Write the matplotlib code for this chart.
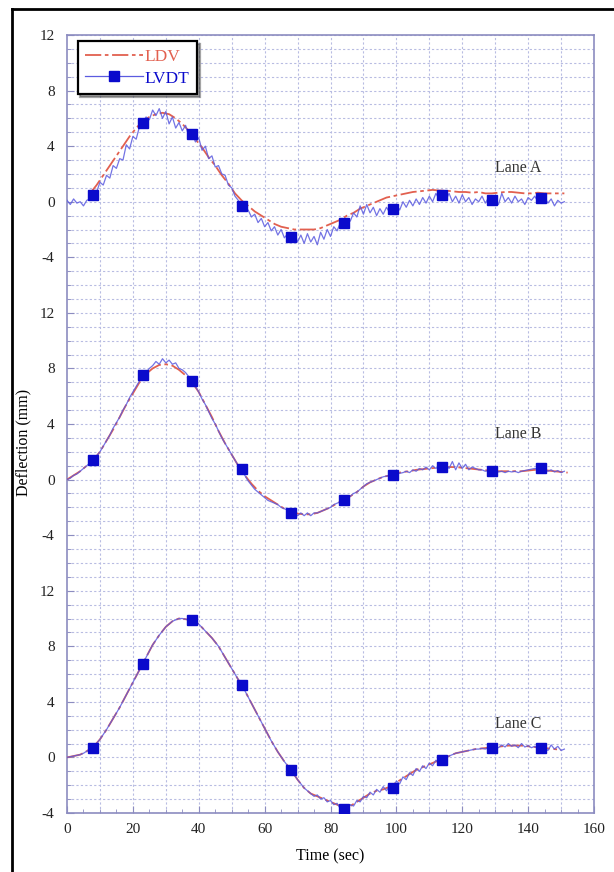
import numpy as np
import matplotlib
matplotlib.use("Agg")
import matplotlib.pyplot as plt
from matplotlib.ticker import MultipleLocator, FixedLocator, FixedFormatter
from matplotlib.lines import Line2D

plt.rcParams['font.family'] = ['Liberation Serif', 'DejaVu Serif']

# LVDT, sampled every 1 s from t=0
lane_a_lvdt = [0.1, -0.2, 0.2, -0.1, 0.0, -0.3, 0.1, 0.2, 0.5, 0.7,
               1.4, 1.2, 1.9, 1.7, 2.6, 2.4, 3.1, 3.0, 4.1, 3.8,
               4.7, 4.5, 5.4, 5.7, 6.1, 5.9, 6.6, 6.2, 6.7, 6.0,
               6.5, 5.6, 6.1, 5.3, 5.7, 5.1, 5.5, 4.7, 4.9, 4.3,
               4.6, 3.7, 4.0, 3.1, 3.3, 2.5, 2.6, 2.0, 1.9, 1.2,
               1.0, 0.4, 0.1, -0.3, -0.5, -0.6, -1.1, -0.9, -1.5, -1.2,
               -1.8, -1.5, -2.1, -1.8, -2.4, -2.0, -2.6, -2.3, -2.6, -2.2,
               -2.9, -2.4, -3.0, -2.3, -2.9, -2.5, -3.1, -2.2, -2.7, -2.0,
               -2.5, -1.8, -2.1, -1.5, -1.7, -1.2, -1.4, -0.8, -1.1, -0.3,
               -0.9, -0.2, -0.8, -0.4, -1.0, -0.5, -0.9, -0.4, -0.8, -0.5,
               -0.2, -0.6, 0.0, -0.4, 0.1, -0.3, 0.2, -0.2, 0.3, -0.1,
               0.4, 0.0, 0.6, 0.2, 0.5, 0.1, 0.6, 0.0, 0.4, -0.1,
               0.5, 0.0, 0.3, -0.2, 0.2, 0.0, 0.4, -0.1, 0.3, 0.1,
               0.2, -0.2, 0.6, 0.0, 0.3, -0.1, 0.4, 0.0, 0.2, -0.2,
               0.3, 0.1, 0.4, 0.0, 0.2, 0.3, -0.1, 0.2, -0.3, 0.1,
               -0.1, 0.0]
lane_b_lvdt = [0.0, 0.1, 0.3, 0.4, 0.6, 0.8, 1.0, 1.2, 1.4, 1.7,
               2.0, 2.4, 2.8, 3.2, 3.7, 4.1, 4.5, 5.0, 5.4, 5.9,
               6.3, 6.7, 7.1, 7.5, 7.7, 8.0, 8.2, 8.5, 8.3, 8.7,
               8.4, 8.6, 8.3, 8.4, 8.0, 7.9, 7.7, 7.4, 7.1, 6.7,
               6.3, 5.8, 5.4, 4.9, 4.4, 4.0, 3.5, 3.0, 2.6, 2.2,
               1.8, 1.4, 1.0, 0.7, 0.3, -0.1, -0.4, -0.7, -0.9, -1.1,
               -1.3, -1.5, -1.6, -1.7, -1.8, -2.0, -2.1, -2.2, -2.35, -2.4,
               -2.6, -2.4, -2.6, -2.4, -2.6, -2.4, -2.4, -2.3, -2.2, -2.1,
               -2.0, -1.8, -1.7, -1.6, -1.5, -1.3, -1.2, -1.0, -0.9, -0.7,
               -0.5, -0.3, -0.2, -0.1, 0.0, 0.1, 0.2, 0.25, 0.3, 0.35,
               0.4, 0.45, 0.5, 0.6, 0.5, 0.7, 0.6, 0.8, 0.7, 0.9,
               0.7, 1.0, 0.8, 1.0, 0.9, 1.1, 0.8, 1.3, 0.7, 1.2,
               0.8, 1.1, 0.7, 0.9, 0.8, 0.7, 0.7, 0.6, 0.65, 0.6,
               0.6, 0.55, 0.6, 0.5, 0.6, 0.55, 0.6, 0.5, 0.6, 0.65,
               0.7, 0.75, 0.8, 0.75, 0.8, 0.7, 0.6, 0.7, 0.55, 0.65,
               0.5, 0.6]
lane_c_lvdt = [0.0, 0.05, 0.1, 0.15, 0.2, 0.3, 0.45, 0.6, 0.75, 1.0,
               1.3, 1.65, 2.0, 2.4, 2.8, 3.2, 3.6, 4.05, 4.5, 4.95,
               5.4, 5.85, 6.3, 6.7, 7.2, 7.65, 8.1, 8.45, 8.8, 9.1,
               9.4, 9.6, 9.8, 9.9, 10.0, 10.0, 9.95, 9.9, 9.9, 9.75,
               9.6, 9.35, 9.1, 8.85, 8.6, 8.3, 8.0, 7.6, 7.2, 6.8,
               6.4, 6.0, 5.6, 5.2, 4.8, 4.35, 3.9, 3.45, 3.0, 2.55,
               2.1, 1.65, 1.2, 0.8, 0.4, 0.05, -0.3, -0.6, -0.9, -1.25,
               -1.6, -1.9, -2.2, -2.4, -2.6, -2.8, -2.7, -3.0, -2.9, -3.2,
               -3.1, -3.4, -3.3, -3.7, -3.6, -3.8, -3.4, -3.5, -3.1, -3.2,
               -2.8, -2.9, -2.5, -2.7, -2.3, -2.5, -2.1, -2.4, -2.0, -2.2,
               -1.7, -1.9, -1.4, -1.6, -1.1, -1.3, -0.8, -1.0, -0.6, -0.8,
               -0.4, -0.6, -0.2, -0.4, -0.2, 0.0, 0.1, 0.2, 0.3, 0.35,
               0.4, 0.45, 0.5, 0.55, 0.6, 0.6, 0.65, 0.6, 0.7, 0.65,
               0.8, 0.7, 0.9, 0.75, 1.0, 0.8, 0.9, 0.7, 1.0, 0.75,
               0.85, 0.7, 0.8, 0.6, 0.65, 0.7, 0.5, 0.9, 0.6, 0.8,
               0.5, 0.6]

# LDV, sampled every 2 s (lane A starts at 7 s)
lane_a_ldv_start = 7
lane_a_ldv = [0.6, 1.2, 1.9, 2.6, 3.3, 4.0, 4.7, 5.3, 5.8, 6.1,
              6.3, 6.4, 6.3, 6.0, 5.6, 5.1, 4.5, 3.9, 3.2, 2.6,
              1.9, 1.3, 0.6, 0.1, -0.3, -0.7, -1.0, -1.3, -1.6, -1.8,
              -1.9, -2.0, -2.0, -2.0, -2.0, -1.9, -1.7, -1.5, -1.3, -1.0,
              -0.8, -0.5, -0.3, -0.1, 0.1, 0.3, 0.4, 0.5, 0.6, 0.7,
              0.75, 0.8, 0.85, 0.8, 0.8, 0.75, 0.7, 0.7, 0.65, 0.7,
              0.6, 0.6, 0.65, 0.7, 0.7, 0.65, 0.6, 0.6, 0.65, 0.6,
              0.6, 0.6, 0.6]
lane_b_ldv = [0.0, 0.3, 0.6, 1.0, 1.4, 2.0, 2.8, 3.6, 4.5, 5.4,
              6.2, 7.0, 7.6, 8.0, 8.25, 8.3, 8.2, 7.9, 7.5, 7.0,
              6.3, 5.4, 4.5, 3.5, 2.6, 1.8, 1.0, 0.3, -0.3, -0.8,
              -1.2, -1.5, -1.8, -2.1, -2.3, -2.45, -2.5, -2.5, -2.4, -2.2,
              -2.0, -1.7, -1.5, -1.2, -0.9, -0.5, -0.2, 0.0, 0.2, 0.3,
              0.45, 0.55, 0.6, 0.7, 0.75, 0.8, 0.85, 0.9, 0.9, 0.9,
              0.85, 0.8, 0.75, 0.7, 0.65, 0.6, 0.6, 0.6, 0.6, 0.6,
              0.65, 0.7, 0.7, 0.65, 0.6, 0.55, 0.5]
lane_c_ldv = [0.0, 0.1, 0.2, 0.45, 0.75, 1.3, 2.0, 2.8, 3.6, 4.5,
              5.4, 6.3, 7.2, 8.1, 8.8, 9.4, 9.8, 10.0, 9.95, 9.85,
              9.6, 9.1, 8.6, 8.0, 7.2, 6.4, 5.6, 4.8, 3.9, 3.0,
              2.1, 1.2, 0.4, -0.3, -0.9, -1.6, -2.2, -2.6, -2.8, -3.0,
              -3.2, -3.4, -3.6, -3.5, -3.2, -2.9, -2.6, -2.4, -2.3, -2.1,
              -1.8, -1.5, -1.2, -0.9, -0.7, -0.5, -0.3, -0.15, 0.1, 0.3,
              0.4, 0.5, 0.6, 0.65, 0.7, 0.75, 0.8, 0.85, 0.85, 0.85,
              0.8, 0.75, 0.7, 0.65, 0.6, 0.55]

# LVDT square markers
marker_t = [8, 23, 38, 53, 68, 84, 99, 114, 129, 144]
lane_a_marks = [0.45, 5.7, 4.9, -0.3, -2.55, -1.55, -0.55, 0.5, 0.13, 0.25]
lane_b_marks = [1.4, 7.5, 7.1, 0.74, -2.38, -1.5, 0.33, 0.93, 0.64, 0.81]
lane_c_marks = [0.65, 6.7, 9.9, 5.24, -0.9, -3.74, -2.17, -0.19, 0.65, 0.65]

lane_names = ["Lane A", "Lane B", "Lane C"]
ytick_labels = ["-4", "0", "4", "8", "12"] * 3

red = "#e2604f"
blue_line = "#5b5be0"
blue_mark = "#0a0acc"
grid_c = "#b8bce2"
spine_c = "#8c8cc0"

fig = plt.figure(figsize=(6.14, 8.72), dpi=100)
ax = fig.add_axes([67 / 614, 1 - 813 / 872, 527 / 614, 778 / 872])

lanes = [
    (lane_a_lvdt, lane_a_ldv, lane_a_ldv_start, lane_a_marks, 40),
    (lane_b_lvdt, lane_b_ldv, 0, lane_b_marks, 20),
    (lane_c_lvdt, lane_c_ldv, 0, lane_c_marks, 0),
]
for i, (lvdt, ldv, ldv_start, marks, off) in enumerate(lanes):
    t1 = np.arange(len(lvdt))
    t2 = ldv_start + 2 * np.arange(len(ldv))
    ax.plot(t2, np.array(ldv) + off, color=red, lw=1.3,
            linestyle=(0, (9, 2, 2, 2)), zorder=3)
    ax.plot(t1, np.array(lvdt) + off, color=blue_line, lw=0.9, alpha=0.85,
            zorder=4)
    ax.plot(marker_t, np.array(marks) + off, linestyle="none", marker="s",
            ms=7, color=blue_mark, zorder=5)
    ax.text(137, off + (2.4 if i != 1 else 3.3), lane_names[i],
            ha="center", va="center", fontsize=11.5, color="#333333")

# legend handles: LDV dash-dot, LVDT line with square marker
ldv_proxy = Line2D([], [], color=red, lw=1.3, linestyle=(0, (9, 2, 2, 2)))
lvdt_proxy = Line2D([], [], color=blue_line, lw=0.9, marker="s", ms=7,
                    markerfacecolor=blue_mark, markeredgecolor=blue_mark)
leg = ax.legend([ldv_proxy, lvdt_proxy], ["LDV", "LVDT"], loc="upper left",
                bbox_to_anchor=(0.02, 0.992), fancybox=False, shadow=True,
                framealpha=1, edgecolor="black", fontsize=12.5,
                handlelength=3.3, handletextpad=0.1, borderpad=0.45,
                labelspacing=0.3, borderaxespad=0)
leg.get_frame().set_linewidth(1.6)
leg.get_texts()[0].set_color(red)
leg.get_texts()[1].set_color(blue_mark)
leg.set_zorder(10)

ax.set_xlim(0, 160)
ax.set_ylim(-4, 52)
ax.xaxis.set_major_locator(MultipleLocator(20))
ax.xaxis.set_minor_locator(MultipleLocator(5))
ax.yaxis.set_major_locator(FixedLocator(list(range(-4, 53, 4))))
ax.yaxis.set_major_formatter(FixedFormatter(ytick_labels))
ax.yaxis.set_minor_locator(MultipleLocator(1))
ax.tick_params(which="both", direction="in", color=spine_c, labelsize=11,
               labelcolor="#222222")
ax.tick_params(which="major", length=5)
ax.tick_params(which="minor", length=3)
ax.tick_params(axis="y", pad=9)
ax.tick_params(axis="x", pad=7)

ax.grid(which="both", axis="y", color=grid_c, linestyle=(0, (2, 2)), lw=0.8)
for xv in range(10, 160, 10):
    ax.axvline(xv, color=grid_c, linestyle=(0, (2, 2)), lw=0.8, zorder=0.5)
ax.set_axisbelow(True)
for s in ax.spines.values():
    s.set_color(spine_c)
    s.set_linewidth(1.2)

ax.set_xlabel("Time (sec)", fontsize=11.5, labelpad=9)
ax.set_ylabel("Deflection (mm)", fontsize=11.5)
ax.yaxis.set_label_coords(-0.068, 0.476)

# outer black frame (top and left edges visible)
fig.add_artist(Line2D([12 / 614, 1.0], [1 - 9 / 872, 1 - 9 / 872],
                      transform=fig.transFigure, color="black", lw=2))
fig.add_artist(Line2D([12 / 614, 12 / 614], [0.0, 1 - 9 / 872],
                      transform=fig.transFigure, color="black", lw=2))

fig.savefig("out.png", dpi=100)
